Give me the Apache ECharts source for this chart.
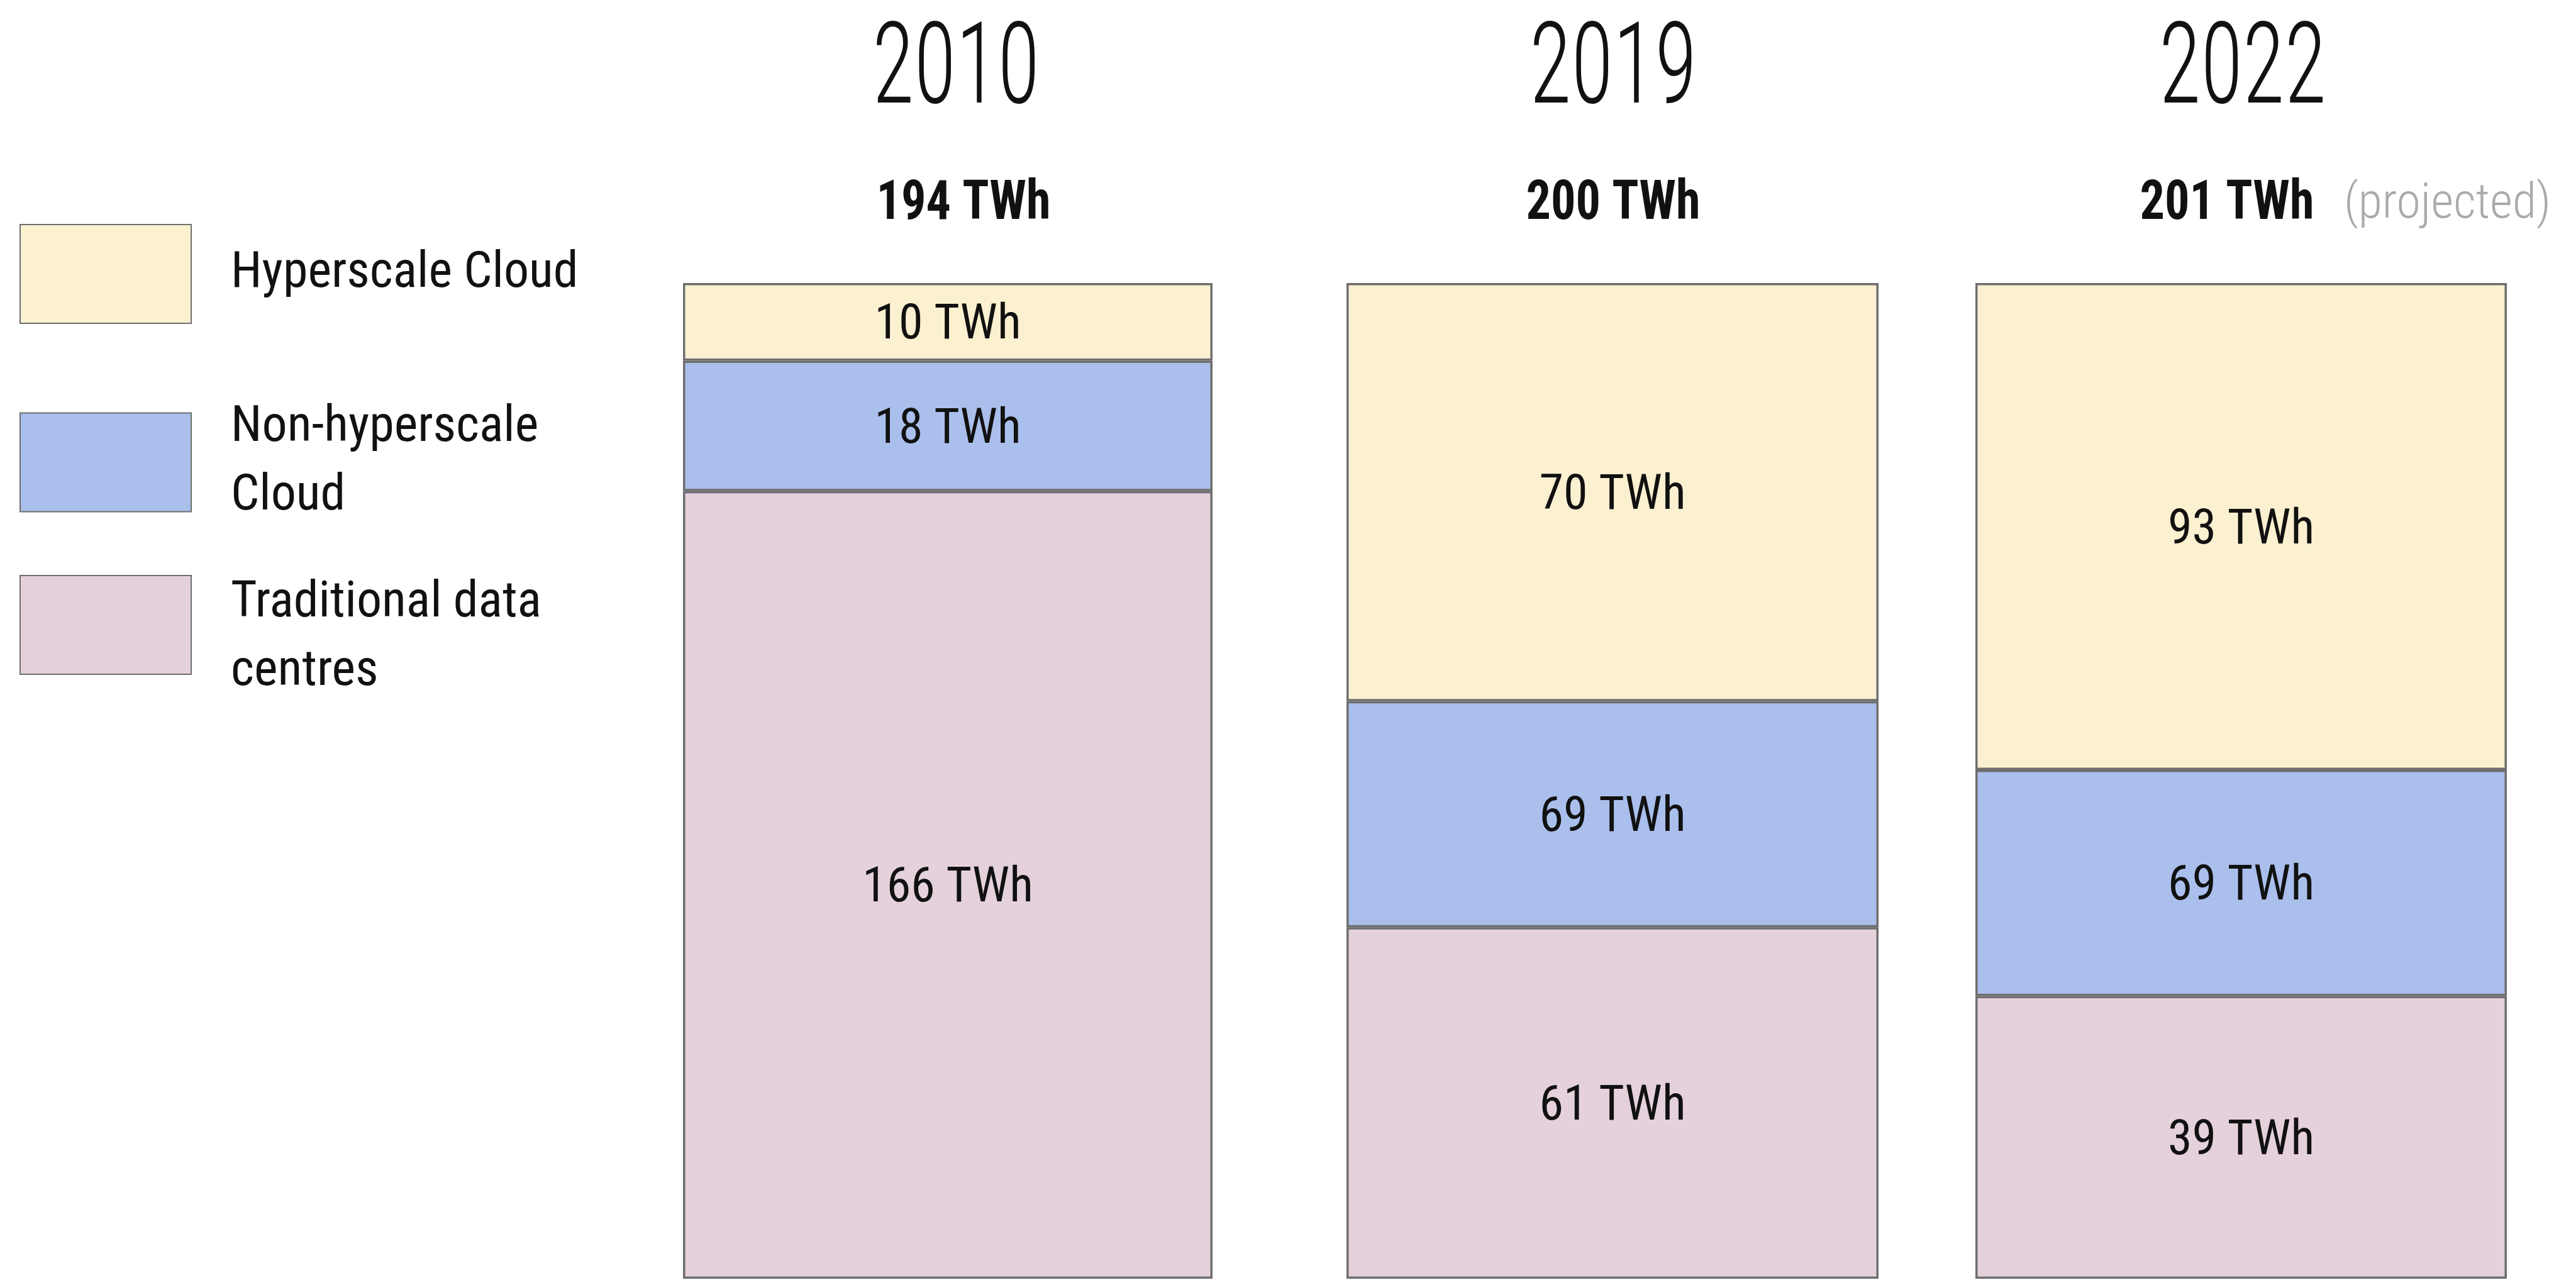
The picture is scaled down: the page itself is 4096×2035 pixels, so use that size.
<!DOCTYPE html>
<html>
<head>
<meta charset="utf-8">
<script src="https://cdn.jsdelivr.net/npm/echarts@6/dist/echarts.min.js"></script>
<style>
html, body { margin: 0; padding: 0; background: #fff; }
#main { width: 4096px; height: 2035px; }
</style>
</head>
<body>
<div id="main"></div>
<script>
var years = ['2010', '2019', '2022'];
var totals = [194, 200, 201];
var hyperscale = [10, 70, 93];
var nonHyperscale = [18, 69, 69];
var traditional = [166, 61, 39];
// the figure is not drawn to scale: segment heights as drawn, in % of the column
var hyperscaleDrawn = [7.8, 42.0, 48.9];
var nonHyperscaleDrawn = [13.1, 22.7, 22.7];
var traditionalDrawn = [79.1, 35.3, 28.4];
var projected = [false, false, true];

var FONT = '"Roboto Condensed", "DejaVu Sans Condensed", sans-serif';
var BORDER = '#6e6e6e';

var names = ['Hyperscale Cloud', 'Non-hyperscale Cloud', 'Traditional data centres'];
var legendText = {
    'Hyperscale Cloud': 'Hyperscale Cloud',
    'Non-hyperscale Cloud': 'Non-hyperscale\nCloud',
    // this one sits a little lower next to its box
    'Traditional data centres': '{b|Traditional data}\n{b|centres}'
};
var colors = {
    'Hyperscale Cloud': '#fbf0d0',
    'Non-hyperscale Cloud': '#aabfec',
    'Traditional data centres': '#e4d1dc'
};

// layout
var colLeft = [1086, 2141, 3141];
var colWidth = [842, 846, 845];
var yearX = [1520, 2565, 3566];
var totalX = [1532, 2565, 3541];
var legendTop = [356, 626, 878];

var grids = [], xAxes = [], yAxes = [], series = [], graphics = [];

for (var i = 0; i < years.length; i++) {
    grids.push({ left: colLeft[i], width: colWidth[i], top: 450, bottom: 2 });
    xAxes.push({ gridIndex: i, type: 'category', data: [years[i]], show: false });
    yAxes.push({ gridIndex: i, type: 'value', min: 0, max: 100, show: false });

    // bottom to top
    var parts = [
        [names[2], traditionalDrawn[i], traditional[i]],
        [names[1], nonHyperscaleDrawn[i], nonHyperscale[i]],
        [names[0], hyperscaleDrawn[i], hyperscale[i]]
    ];
    for (var k = 0; k < parts.length; k++) {
        series.push({
            name: parts[k][0],
            type: 'bar',
            xAxisIndex: i,
            yAxisIndex: i,
            stack: 'col' + i,
            barWidth: '100%',
            silent: true,
            data: [parts[k][1]],
            itemStyle: { color: colors[parts[k][0]], borderColor: BORDER, borderWidth: 3.5 },
            label: {
                show: true,
                position: 'inside',
                offset: [0, 7],
                formatter: parts[k][2] + ' TWh',
                fontFamily: FONT,
                fontSize: 78,
                color: '#111'
            }
        });
    }

    graphics.push({
        type: 'text', x: yearX[i], y: 118, scaleX: 0.76,
        style: { text: years[i], fontFamily: FONT, fontWeight: 300, fontSize: 180, fill: '#111', align: 'center', verticalAlign: 'middle' }
    });
    graphics.push({
        type: 'text', x: totalX[i], y: 326, scaleX: 0.89,
        style: { text: totals[i] + ' TWh', fontFamily: FONT, fontWeight: 'bold', fontSize: 88, fill: '#111', align: 'center', verticalAlign: 'middle' }
    });
    if (projected[i]) {
        graphics.push({
            type: 'text', x: 3727, y: 326,
            style: { text: '(projected)', fontFamily: FONT, fontWeight: 300, fontSize: 78, fill: '#aaaaaa', align: 'left', verticalAlign: 'middle' }
        });
    }
}

var legends = [];
for (var j = 0; j < names.length; j++) {
    legends.push({
        data: [names[j]],
        left: 31,
        top: legendTop[j],
        padding: 0,
        icon: 'rect',
        itemWidth: 272,
        itemHeight: 157,
        selectedMode: false,
        formatter: function (name) { return legendText[name]; },
        textStyle: {
            fontFamily: FONT,
            fontSize: 80,
            lineHeight: 109,
            color: '#111',
            padding: [0, 0, 0, 58],
            rich: {
                b: { fontFamily: FONT, fontSize: 80, lineHeight: 109, color: '#111', padding: [42, 0, 0, 0] }
            }
        }
    });
}

var myChart = echarts.init(document.getElementById('main'));
var option = {
    backgroundColor: '#fff',
    animation: false,
    grid: grids,
    xAxis: xAxes,
    yAxis: yAxes,
    legend: legends,
    graphic: graphics,
    series: series
};
myChart.setOption(option);
</script>
</body>
</html>
